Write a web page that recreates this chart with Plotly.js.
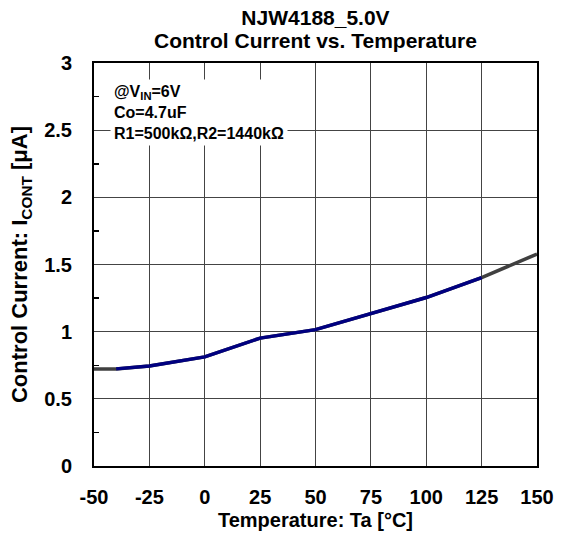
<!DOCTYPE html>
<html>
<head>
<meta charset="utf-8">
<script src="https://cdn.plot.ly/plotly-3.0.1.min.js"></script>
<style>html,body{margin:0;padding:0;background:#fff;}#chart{width:563px;height:542px;}</style>
</head>
<body>
<div id="chart"></div>
<script>
// Measured data (blue)
const temps = [-40, -25, 0, 25, 50, 75, 100, 125];
const current = [0.723, 0.745, 0.812, 0.952, 1.015, 1.134, 1.254, 1.403];
// Extrapolated ends (gray)
const extTemps = [-50, -40, -25, 0, 25, 50, 75, 100, 125, 150];
const extCurrent = [0.723, 0.723, 0.745, 0.812, 0.952, 1.015, 1.134, 1.254, 1.403, 1.578];

const xTicks = [-50, -25, 0, 25, 50, 75, 100, 125, 150];
const yTicks = [0, 0.5, 1, 1.5, 2, 2.5, 3];
const yTickText = ['0', '0.5', '1', '1.5', '2', '2.5', '3'];

const titleLine1 = 'NJW4188_5.0V';
const titleLine2 = 'Control Current vs. Temperature';
const xTitle = 'Temperature: Ta [°C]';
const yTitle = 'Control Current: I<sub>CONT</sub> [μA]';
const noteText = '@V<sub>IN</sub>=6V<br>Co=4.7uF<br>R1=500kΩ,R2=1440kΩ';

const FONT = 'Liberation Sans, Arial, sans-serif';

const traces = [
  {x: extTemps, y: extCurrent, mode: 'lines', line: {color: '#404040', width: 3.5}, hoverinfo: 'skip', showlegend: false},
  {x: temps, y: current, mode: 'lines', line: {color: '#000080', width: 3.5}, showlegend: false}
];

const layout = {
  width: 563, height: 542,
  margin: {l: 94, r: 26, t: 63, b: 76},
  paper_bgcolor: '#fff', plot_bgcolor: '#fff',
  font: {family: FONT, color: '#000', size: 18},
  title: {text: titleLine1, font: {family: FONT, size: 21, color: '#000', weight: 'bold'},
          x: 0.5, xanchor: 'center', xref: 'paper', y: 1 - 18 / 542, yanchor: 'middle', yref: 'container'},
  showlegend: false,
  xaxis: {
    range: [-50, 150], tickvals: xTicks, ticktext: xTicks.map(String),
    showgrid: true, gridcolor: '#444', gridwidth: 1,
    showline: true, linecolor: '#000', linewidth: 2, mirror: true,
    ticks: '', zeroline: false, ticklabelstandoff: 12,
    tickfont: {family: FONT, size: 20, color: '#000', weight: 'bold'},
    title: {text: xTitle, font: {family: FONT, size: 20, color: '#000', weight: 'bold'}, standoff: 6}
  },
  yaxis: {
    range: [0, 3], tickvals: yTicks, ticktext: yTickText,
    showgrid: true, gridcolor: '#444', gridwidth: 1,
    showline: true, linecolor: '#000', linewidth: 2, mirror: true,
    ticks: '', zeroline: false, ticklabelstandoff: 16,
    minor: {tickvals: [0.25, 0.75, 1.25, 1.75, 2.25, 2.75], ticks: 'inside', ticklen: 5, tickcolor: '#000', tickwidth: 1.5, showgrid: false},
    tickfont: {family: FONT, size: 20, color: '#000', weight: 'bold'},
    title: {text: yTitle, font: {family: FONT, size: 22, color: '#000', weight: 'bold'}, standoff: 10}
  },
  annotations: [
    {
      text: titleLine2, xref: 'paper', yref: 'paper', x: 0.5, y: 1,
      xanchor: 'center', yanchor: 'middle', yshift: 23,
      showarrow: false, font: {family: FONT, size: 21, color: '#000', weight: 'bold'}
    },
    {
      text: noteText, xref: 'paper', yref: 'paper', x: 0, y: 1,
      xanchor: 'left', yanchor: 'top', xshift: 16, yshift: -16,
      align: 'left', showarrow: false, bgcolor: '#fff', borderpad: 3,
      font: {family: FONT, size: 16, color: '#000', weight: 'bold'}
    }
  ]
};

Plotly.newPlot('chart', traces, layout, {displayModeBar: false, staticPlot: true});
</script>
</body>
</html>
